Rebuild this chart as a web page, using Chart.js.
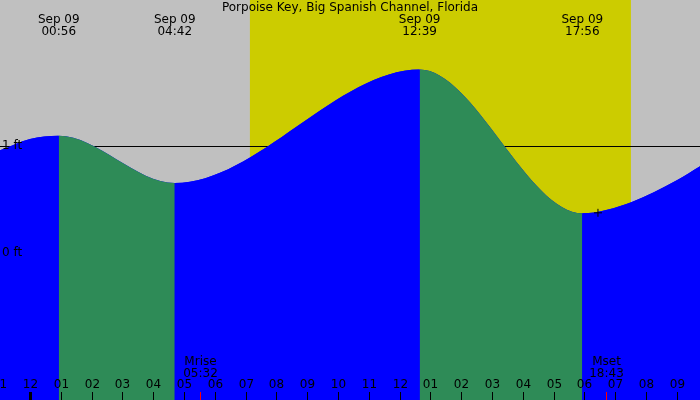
<!DOCTYPE html>
<html>
<head>
<meta charset="utf-8">
<script src="https://cdn.jsdelivr.net/npm/chart.js@4/dist/chart.umd.min.js"></script>
<style>
  body { margin: 0; background: #fff; }
  #wrap { width: 700px; height: 400px; }
</style>
</head>
<body>
<div id="wrap"><canvas id="tideChart" width="700" height="400"></canvas></div>
<script>
// hours since midnight Sep 09, water level in feet
const times   = [-0.974, 0, 0.933, 4.7, 12.65, 17.933, 19.54, 21.0, 21.753];
const heights = [0.963, 1.07, 1.10, 0.657, 1.72, 0.374, 0.48, 0.682, 0.813];

const extremeTimes  = [0.933, 4.7, 12.65, 17.933];
const extremeDates  = ["Sep 09", "Sep 09", "Sep 09", "Sep 09"];
const extremeClocks = ["00:56", "04:42", "12:39", "17:56"];

const sunTimes = [7.14, 19.51];          // sunrise, sunset
const moonTimes  = [5.533, 18.717];
const moonNames  = ["Mrise", "Mset"];
const moonClocks = ["05:32", "18:43"];

const hourTicks  = [-1, 0, 1, 2, 3, 4, 5, 6, 7, 8, 9, 10, 11, 12, 13, 14, 15, 16, 17, 18, 19, 20, 21];
const hourLabels = ["11", "12", "01", "02", "03", "04", "05", "06", "07", "08", "09", "10", "11", "12", "01", "02", "03", "04", "05", "06", "07", "08", "09"];

const levelTicks  = [0, 1];
const levelLabels = ["0 ft", "1 ft"];

const markTime = [18.44];
const markLevel = [0.378];

const title = "Porpoise Key, Big Spanish Channel, Florida";
const FONT = '12px "DejaVu Sans", sans-serif';
const RISING = '#0000ff', FALLING = '#2e8b57';

const tidePoints = times.map((t, i) => ({ x: t, y: heights[i] }));

const tidePlugin = {
  id: 'tideDecor',
  beforeDraw(chart) {
    const { ctx, chartArea: a, scales: { x } } = chart;
    ctx.save();
    ctx.fillStyle = '#c0c0c0';
    ctx.fillRect(a.left, a.top, a.right - a.left, a.bottom - a.top);
    const x1 = x.getPixelForValue(sunTimes[0]);
    const x2 = x.getPixelForValue(sunTimes[1]);
    ctx.fillStyle = '#cccc00';
    ctx.fillRect(x1, a.top, x2 - x1, a.bottom - a.top);
    ctx.restore();
  },
  afterDatasetsDraw(chart) {
    const { ctx, chartArea: a, scales: { x, y } } = chart;
    ctx.save();
    ctx.font = FONT;
    ctx.fillStyle = '#000';
    ctx.textBaseline = 'middle';

    // title
    ctx.textAlign = 'center';
    ctx.fillText(title, (a.left + a.right) / 2, a.top + 8);

    // high / low times
    extremeTimes.forEach((t, i) => {
      const px = x.getPixelForValue(t);
      ctx.fillText(extremeDates[i], px, a.top + 20);
      ctx.fillText(extremeClocks[i], px, a.top + 32);
    });

    // level labels
    ctx.textAlign = 'left';
    levelTicks.forEach((v, i) => {
      ctx.fillText(levelLabels[i], a.left + 2, y.getPixelForValue(v));
    });

    // hour ticks along the bottom
    ctx.textAlign = 'center';
    hourTicks.forEach((h, i) => {
      const px = Math.round(x.getPixelForValue(h));
      ctx.fillStyle = '#000';
      if (h === 0) ctx.fillRect(px - 1, a.bottom - 8, 3, 8);
      else ctx.fillRect(px, a.bottom - 8, 1, 8);
      ctx.fillText(hourLabels[i], px + 0.5, a.bottom - 15);
    });

    // moon rise / set
    moonTimes.forEach((t, i) => {
      const px = Math.round(x.getPixelForValue(t));
      ctx.fillStyle = '#ff0000';
      ctx.fillRect(px, a.bottom - 8, 1, 8);
      ctx.fillStyle = '#000';
      ctx.fillText(moonNames[i], px + 0.5, a.bottom - 38);
      ctx.fillText(moonClocks[i], px + 0.5, a.bottom - 26);
    });
    ctx.restore();
  }
};

new Chart(document.getElementById('tideChart').getContext('2d'), {
  type: 'line',
  data: {
    datasets: [{
      data: markTime.map((t, i) => ({ x: t, y: markLevel[i] })),
      showLine: false,
      pointStyle: 'cross',
      pointRadius: 4,
      borderColor: '#000',
      borderWidth: 1,
      order: 0
    }, {
      // coloured by rising / falling
      data: tidePoints,
      fill: 'start',
      backgroundColor: RISING,
      segment: {
        backgroundColor: c => (c.p1.parsed.y >= c.p0.parsed.y ? RISING : FALLING)
      },
      borderWidth: 0,
      pointRadius: 0,
      cubicInterpolationMode: 'monotone',
      order: 1
    }, {
      // plain underlay so the joins between colours leave no seams
      data: tidePoints,
      fill: 'start',
      backgroundColor: RISING,
      borderWidth: 0,
      pointRadius: 0,
      cubicInterpolationMode: 'monotone',
      order: 2
    }]
  },
  options: {
    responsive: false,
    animation: false,
    layout: { padding: 0, autoPadding: false },
    plugins: { legend: { display: false }, tooltip: { enabled: false } },
    scales: {
      x: { type: 'linear', display: false, min: -0.974, max: 21.753 },
      y: {
        min: -1.374, max: 2.37,
        afterBuildTicks: s => { s.ticks = levelTicks.map(v => ({ value: v })); },
        afterFit: s => { s.width = 0; },
        ticks: { display: false },
        border: { display: false },
        grid: { color: '#000', lineWidth: 1, drawTicks: false }
      }
    }
  },
  plugins: [tidePlugin]
});
</script>
</body>
</html>
